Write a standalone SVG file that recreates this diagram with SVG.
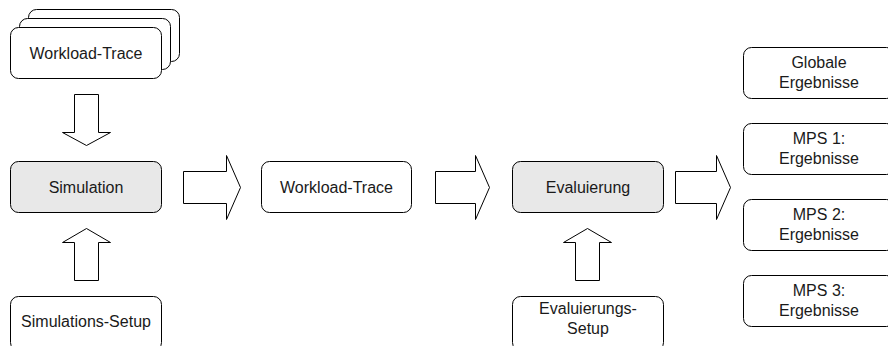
<svg xmlns="http://www.w3.org/2000/svg" width="888" height="346" viewBox="0 0 888 346">
<style>
.box{fill:#fff;stroke:#000;stroke-width:1}
.proc{fill:#e8e8e8;stroke:#000;stroke-width:1}
.arr{fill:#fff;stroke:#000;stroke-width:1;stroke-linejoin:miter}
text{font-family:"Liberation Sans",Arial,Helvetica,sans-serif;font-size:16px;fill:#1a1a1a;text-anchor:middle}
</style>
<rect width="888" height="346" fill="#fff"/>
<g id="trace-input">
<rect class="box" x="28.5" y="9.5" width="151" height="52" rx="8"/>
<rect class="box" x="19.5" y="18.5" width="151" height="51" rx="8"/>
<rect class="box" x="10.5" y="27.5" width="151" height="51" rx="8"/>
<text x="86" y="58.5">Workload-Trace</text>
</g>
<g id="simulation">
<rect class="proc" x="10.5" y="161.5" width="151" height="51" rx="8"/>
<text x="86" y="192.5">Simulation</text>
</g>
<g id="simulations-setup">
<rect class="box" x="10.5" y="296.5" width="151" height="54" rx="8"/>
<text x="86" y="327">Simulations-Setup</text>
</g>
<g id="workload-trace">
<rect class="box" x="261.5" y="161.5" width="150" height="51" rx="8"/>
<text x="336.5" y="192.5">Workload-Trace</text>
</g>
<g id="evaluierung">
<rect class="proc" x="512.5" y="161.5" width="151" height="51" rx="8"/>
<text x="588" y="192.5">Evaluierung</text>
</g>
<g id="evaluierungs-setup">
<rect class="box" x="512.5" y="296.5" width="151" height="54" rx="8"/>
<text x="588" y="314">Evaluierungs-</text>
<text x="588" y="334">Setup</text>
</g>
<g id="globale-ergebnisse">
<rect class="box" x="743.5" y="47.5" width="151" height="51" rx="8"/>
<text x="819" y="68">Globale</text>
<text x="819" y="88">Ergebnisse</text>
</g>
<g id="mps1">
<rect class="box" x="743.5" y="123.5" width="151" height="51" rx="8"/>
<text x="819" y="144">MPS 1:</text>
<text x="819" y="164">Ergebnisse</text>
</g>
<g id="mps2">
<rect class="box" x="743.5" y="199.5" width="151" height="51" rx="8"/>
<text x="819" y="220">MPS 2:</text>
<text x="819" y="240">Ergebnisse</text>
</g>
<g id="mps3">
<rect class="box" x="743.5" y="275.5" width="151" height="51" rx="8"/>
<text x="819" y="296">MPS 3:</text>
<text x="819" y="316">Ergebnisse</text>
</g>
<g id="connectors">
<path class="arr" d="M74.5,94.5 H98.5 V132.5 H110.5 L86.5,145.5 L62.5,132.5 H74.5 Z"/>
<path class="arr" d="M74.5,280.5 H98.5 V242.5 H110.5 L86.5,228.5 L62.5,242.5 H74.5 Z"/>
<path class="arr" d="M575.5,280.5 H599.5 V242.5 H611.5 L587.5,228.5 L563.5,242.5 H575.5 Z"/>
<path class="arr" d="M183.5,171.5 H226.5 V155.5 L240.5,187.5 L226.5,219.5 V203.5 H183.5 Z"/>
<path class="arr" d="M435.5,171.5 H475.5 V155.5 L489.5,187.5 L475.5,219.5 V203.5 H435.5 Z"/>
<path class="arr" d="M675.5,171.5 H716.5 V155.5 L730.5,187.5 L716.5,219.5 V203.5 H675.5 Z"/>
</g>
</svg>
